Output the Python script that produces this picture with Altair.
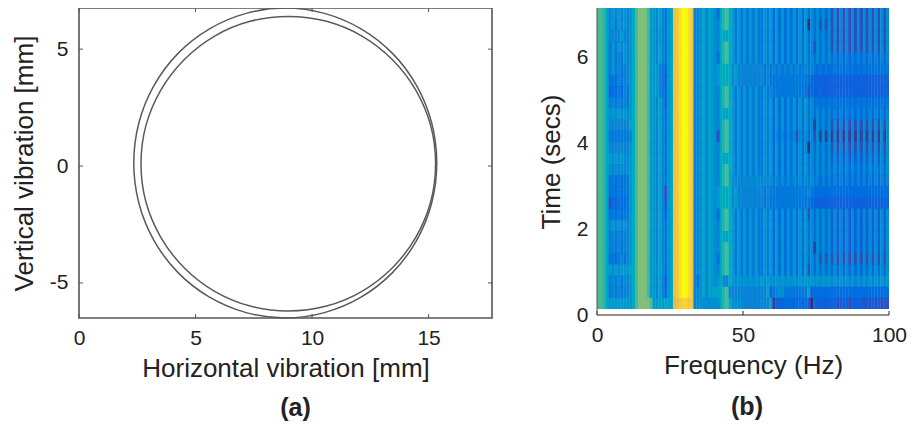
import altair as alt
import pandas as pd

# --- panel (a): orbit rings
outer_x = [15.35,15.13,14.48,13.45,12.10,10.53,8.85,7.17,5.60,4.25,3.22,2.57,2.35,2.57,3.22,4.25,5.60,7.17,8.85,10.53,12.10,13.45,14.48,15.13]
outer_y = [0.13,1.85,3.45,4.82,5.87,6.53,6.76,6.53,5.87,4.82,3.45,1.85,0.13,-1.59,-3.19,-4.56,-5.61,-6.27,-6.50,-6.27,-5.61,-4.56,-3.19,-1.59]
inner_x = [15.30,15.09,14.45,13.45,12.14,10.62,8.98,7.34,5.82,4.51,3.51,2.87,2.66,2.87,3.51,4.51,5.82,7.34,8.98,10.62,12.14,13.45,14.45,15.09]
inner_y = [0.10,1.73,3.25,4.55,5.56,6.19,6.40,6.19,5.56,4.55,3.25,1.73,0.10,-1.53,-3.05,-4.35,-5.36,-5.99,-6.20,-5.99,-5.36,-4.35,-3.05,-1.53]
a_xticks = [0, 5, 10, 15]
a_yticks = [-5, 0, 5]

# --- panel (b): spectrogram levels, one string per time row (top row first),
# one letter per 1 Hz bin, a = lowest level, z = highest level
spectrogram_rows = [
"nnmjgigigi giknpppnii gjgfijuvxz zxvgghjgji hekmnkifif ifififfifi eieieieiei eieheheheh chchchchch chchchchch",
"nnmjgifigi giknpppnii gjgfijuvxz zxvgghjgji hgkmnkifif ifififfifi eieieieiei eiahehchch chchchchch chchchchch",
"nnmjggggig giknpppnii gigfijuvxz zxvgghjgji hgkjjkifif ifififfifi eieieieiei eieheheheh chchchchch chchchchch",
"nnmjfifigi giknpppnii gjgfijuvxz zxvgghjgji hgkmnkifif ifififfifi eieieieiei eiehcheheh chchchchch chchchchch",
"nnmjfifgfi giknpppnii gjgfijuvxz zxvgghjgji hekmnkifif ifififfifi eieieieiei eieheheheh egegegegeg egegegegeg",
"nnmjfifgfg giknpppnii igfeijuvxz zxvgghjgji hikkkkgigg gggggggfgf gfgfgfgfgf fgfgfefefe efefefefef efefefefef",
"nnmjefegfg giknpppnii igfdijuvxz zxvgghjgji hikkkkgigg gggggggfgf ffffffffff ffeedddddd dddddddddd dddddddddd",
"nnmjdeefeg fiknpppnii igfeijuvxz zxvgghjgji hgkmnkifif ifififfifg ffffffffff ffceddeddd dddddddddd dddddddddd",
"nnmjfgfgfg fiknpppnii gjgeijuvxz zxvgghjgji hgkmnkifif ifififfifi eieieieiei eiehefefef efefefefef efefefefef",
"nnmjhihihi hiknpppnii hjgfijuvxz zxvgghjgji hgkjjkifif ifififfifi eieieieiei eieheheheg egegegegeg egegegegeg",
"nnmjgggggg gjknpppnii gjgfijuvxz zxvgghjgji hgkmnkifif ifififfifi eieieieiei eiehbheheh chchchchch chchchchch",
"nnmjffffff fgknpppnii gjgfijuvxz zxvgghjgji hckmnkifif ifififfifi ehehehehch ehehchbhbh bhbhbhbhbh bhbhbhbhbh",
"nnmjgggggg giknpppnii gjgfijuvxz zxvgghjgji hgkmnkifif ifififfifi eieieieiei ehaheheheh chchchchch chchchchch",
"nnmjihihih hiknpppnii gjgfijuvxz zxvgghjgji hgkjjkifif ifififfifi eieieieiei eieheheheh dhdhdhdhdh dhdhdhdhdh",
"nnmjhghghg hiknpppnii gjgfijuvxz zxvgghjgji hgkmnkifif ifififfifi eieieieiei eieheheheh eheheheheh eheheheheh",
"nnmjefefef fiknpppnii gjgfijuvxz zxvgghjgji hgkmnkhghg hghghhghgh fhfhfhfhfh fhfhfgegeg egegegegeg egegegegeg",
"nnmjefefef fiknpppnii gjgcijuvxz zxvgghjgji hikkkkgigg gggggggfgf ffffffffff ffgfeeeeee eeeeeeeeee eeeeeeeeee",
"nnmjcedeee fiknpppnii gjgdijuvxz zxvgghjgji hikkkkgigg gggggggfgf ffffffffff fffedddddd dddddddddd dddddddddd",
"nnmjefefef fiknpppnii gjgeijuvxz zxvgghjgji hekmnkifif ifififfifi eieieieiei eicheheheh dhdhdhdhdh dhdhdhdhdh",
"nnmjgigigi giknpppnii gjgfijuvxz zxvgghjgji hgkmnkifif ifififfifi eieieieiei eieheheheh dhdhdhdhdh dhdhdhdhdh",
"nnmjfgfgfg giknpppnii gjgfijuvxz zxvgghjgji hgkjjkifif ifififfifi eieieieiei eieheheheh dhdhdhdhdh dhdhdhdhdh",
"nnmjfgfgfg giknpppnii gjgfijuvxz zxvgghjgji hgkmnkifif ifififfifi eieieieiei eiehbheheh dhdhdhdhdh dhdhdhdhdh",
"nnmjefefgf giknpppnii gjgfijuvxz zxvgghjgji hekmnkifif ifififfifi eieieieiei eiehehchch chchchchch chchchchch",
"nnmjihihii ijknpppnii hjhfijuvxz zxvgghjgji hgkmnkifif ifififfifi eieieieiei eicheheheh eheheheheh eheheheheh",
"nnmjfhfhfh giknpppnii gjgdijuvxz zxvgehjgji hikggkihih ihihihihih hihihihihi hihihihihi gigigigigi gigigigigi",
"nnmjfgfgfg giknpppnii gjgeijuvxz zxvgghjgjj jjkmnggggg ggggggggjd fghhffffff ffjdeeeeee eeeeeeeeee eeeeeeeeee",
"nnmjiiiiii iiknppppni ijijjjtuvw wvvghhhhhh hhkmnkhhhh gggggggggj bdddeeedee dedaeddddd ddcdddcddd dcdcdcdcdc",
]
t_top = 7.0
row_hours = 7.0 / 27
b_xticks = [0, 50, 100]
b_yticks = [0, 2, 4, 6]
parula = ["#352a87","#0363e1","#1485d4","#06a7c6","#38b99e","#92bf73","#d9ba56","#fcce2e","#f9fb0e"]

FONT = "Liberation Sans"
INK = "#555555"

rows = []
n_rows = len(spectrogram_rows)
for r, s in enumerate(spectrogram_rows):
    cells = s.replace(" ", "")
    assert len(cells) == 100, r
    for c, ch in enumerate(cells):
        rows.append({"f0": c, "f1": min(c + 1.12, 100),
                     "t0": 0.14 + t_top - (r + 1) * row_hours - (0.02 if r < n_rows - 1 else 0),
                     "t1": 0.14 + t_top - r * row_hours,
                     "v": (ord(ch) - 97) / 25})
cells_df = pd.DataFrame(rows)

rings = pd.concat([
    pd.DataFrame({"x": outer_x, "y": outer_y, "ring": "outer", "i": range(len(outer_x))}),
    pd.DataFrame({"x": inner_x, "y": inner_y, "ring": "inner", "i": range(len(inner_x))}),
])

def ax(title, values, **kw):
    return alt.Axis(title=title, values=values, tickSize=0, grid=False,
                    labelFont=FONT, labelFontSize=21, labelColor="#222222",
                    titleFont=FONT, titleFontSize=26, titleFontWeight="normal",
                    titleColor="#222222", domain=False, labelOverlap=False,
                    labelFlush=False, labelExpr="toString(datum.value)", **kw)

# panel (a)
AW, AH = 413, 310
a_xdom = [0, 17.72]
a_ydom = [-6.5, 6.76]
a_X = alt.X("x:Q", scale=alt.Scale(domain=a_xdom, nice=False),
            axis=ax("Horizontal vibration [mm]", a_xticks, labelPadding=9, titlePadding=7))
a_Y = alt.Y("y:Q", scale=alt.Scale(domain=a_ydom, nice=False),
            axis=ax("Vertical vibration [mm]", a_yticks, labelPadding=11, titlePadding=12))
ring_layer = alt.Chart(rings).mark_line(interpolate="cardinal-closed", stroke="#5a5a5a", strokeWidth=1.5).encode(
    x=a_X, y=a_Y, detail="ring:N", order="i:Q")

xt = pd.DataFrame({"x": a_xticks})
yt = pd.DataFrame({"y": a_yticks})
def rule_v(df, X, y0, y1, color=INK):
    return alt.Chart(df).mark_rule(stroke=color, strokeWidth=1).encode(
        x=X, y=alt.value(y0), y2=alt.value(y1))
def rule_h(df, Y, x0, x1, color=INK):
    return alt.Chart(df).mark_rule(stroke=color, strokeWidth=1).encode(
        y=Y, x=alt.value(x0), x2=alt.value(x1))

panel_a = alt.layer(
    ring_layer,
    rule_v(xt, a_X, AH, AH - 4),
    rule_v(xt, a_X, 0, 4),
    rule_h(yt, a_Y, 0, 4),
    rule_h(yt, a_Y, AW, AW - 4),
).properties(
    width=AW, height=AH,
    view=alt.ViewConfig(stroke=INK, strokeWidth=1.6, fill="white"),
    title=alt.TitleParams("(a)", orient="bottom", anchor="middle", font=FONT, fontSize=25,
                          fontWeight="bold", color="#222222", offset=15, dx=10),
)

# panel (b)
BW, BH = 292, 307
b_xdom = [0, 100]
b_ydom = [0, 7.14]
b_X = alt.X("x:Q", scale=alt.Scale(domain=b_xdom, nice=False),
            axis=ax("Frequency (Hz)", b_xticks, labelPadding=9, titlePadding=7, titleX=156))
b_Y = alt.Y("y:Q", scale=alt.Scale(domain=b_ydom, nice=False),
            axis=ax("Time (secs)", b_yticks, labelPadding=9, titlePadding=12))
color_scale = alt.Scale(domain=[i / 8 for i in range(9)], range=parula)
heat = alt.Chart(cells_df).mark_rect().encode(
    x=alt.X("f0:Q", scale=alt.Scale(domain=b_xdom, nice=False),
            axis=ax("Frequency (Hz)", b_xticks, labelPadding=9, titlePadding=7, titleX=156)),
    x2="f1:Q",
    y=alt.Y("t0:Q", scale=alt.Scale(domain=b_ydom, nice=False),
            axis=ax("Time (secs)", b_yticks, labelPadding=9, titlePadding=12)),
    y2="t1:Q",
    color=alt.Color("v:Q", scale=color_scale, legend=None),
)
panel_b = alt.layer(
    heat,
    rule_v(pd.DataFrame({"x": b_xticks}), b_X, BH, BH - 4, "#222222"),
    rule_h(pd.DataFrame({"y": [0]}), b_Y, 0, BW, "#222222"),
    rule_v(pd.DataFrame({"x": [0]}), b_X, 0, BH, "#555555"),
).properties(
    width=BW, height=BH,
    view=alt.ViewConfig(stroke=None),
    title=alt.TitleParams("(b)", orient="bottom", anchor="middle", font=FONT, fontSize=25,
                          fontWeight="bold", color="#222222", offset=17, dx=4),
)

chart = alt.hconcat(panel_a, panel_b, spacing=44).resolve_scale(color="independent").properties(
    padding={"left": 2, "top": -4, "right": 0, "bottom": 0}
).configure_view(stroke=None)

chart.save("out.html", embed_options={"renderer": "svg", "actions": False})
